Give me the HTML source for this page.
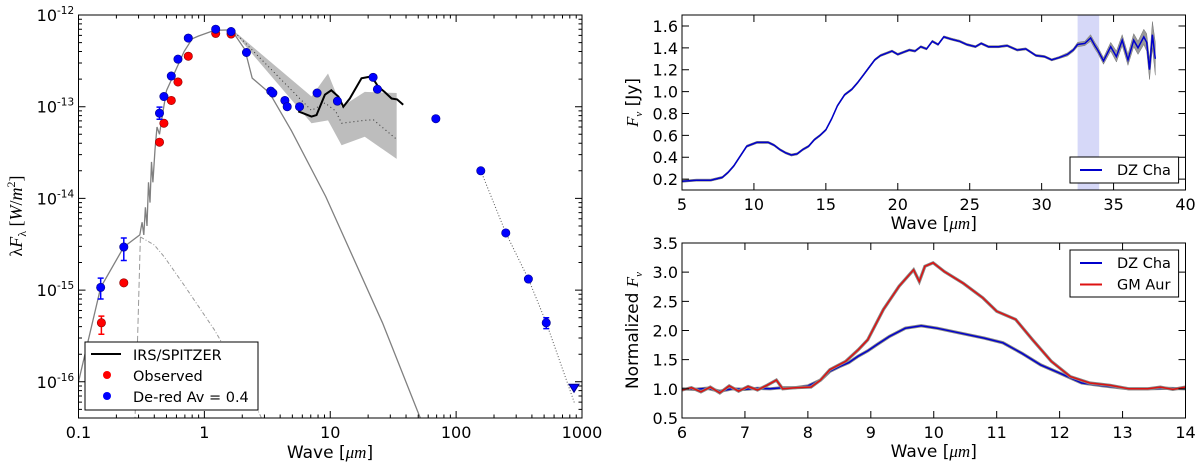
<!DOCTYPE html>
<html><head><meta charset="utf-8"><style>
html,body{margin:0;padding:0;background:#fff}
svg{display:block;font-family:"DejaVu Sans","Liberation Sans",sans-serif}
</style></head><body>
<svg id="fig" width="1200" height="464" viewBox="0 0 1200 464" xmlns="http://www.w3.org/2000/svg">
<g id="sed"></g>
<g id="top"></g>
<g id="bot"></g>
</svg>
<script>
// ---------- SED data (wavelength in um, flux in W/m^2) ----------
const photLam=[0.1,0.15,0.229,0.307,0.32,0.33,0.34,0.35,0.36,0.37,0.38,0.39,0.405,0.42,0.44,0.47,0.5,0.55,0.6,0.69,0.8,0.9,1.2,1.64,2.1,2.4,3.3,4.9,9.2,26,52,60];
const photF=[1e-16,1.07e-15,2.95e-15,4e-15,5.5e-15,4e-15,8e-15,5e-15,1.5e-14,9e-15,2.5e-14,1.5e-14,3.4e-14,6e-14,5e-14,9e-14,1.5e-13,2e-13,2.6e-13,4e-13,5.5e-13,5.9e-13,6.8e-13,6.9e-13,4.2e-13,2.05e-13,1.41e-13,5.5e-14,1.05e-14,4.4e-16,4e-17,2.5e-17];
const bbLeftLam=[0.31,0.295,0.28,0.27];
const bbLeftF=[3.8e-15,3e-16,3.4e-17,1e-17];
const bbRightLam=[0.31,0.4,0.48,0.7,1.2,2.0,2.8,3.2];
const bbRightF=[3.8e-15,3.1e-15,2.3e-15,1.1e-15,3.7e-16,1.1e-16,4.2e-17,2.5e-17];
const bandLam=[1.74,7.1,9.6,12.3,18.8,33.7];
const bandHi=[6.6e-13,1.29e-13,2.3e-13,1e-13,1.45e-13,1.41e-13];
const bandLo=[6.3e-13,6.6e-14,7.1e-14,3.8e-14,4.7e-14,2.7e-14];
const medLam=[1.74,7.1,9.06,11.0,12.3,18.8,22,33.7];
const medF=[6.5e-13,9.1e-14,1.1e-13,9e-14,6.6e-14,7.1e-14,7.2e-14,4.4e-14];
const irsLam=[5.56,7.1,7.77,9.06,10.2,11.6,12.7,14.3,17.7,21.3,24,27,30.7,34,38];
const irsF=[8.9e-14,7.8e-14,8.1e-14,1.35e-13,1.51e-13,1.29e-13,1e-13,1.23e-13,2.04e-13,2.14e-13,1.66e-13,1.45e-13,1.23e-13,1.2e-13,1.05e-13];
const obsLam=[0.152,0.229,0.44,0.477,0.546,0.617,0.745,1.23,1.63];
const obsF=[4.4e-16,1.2e-15,4.1e-14,6.6e-14,1.17e-13,1.86e-13,3.55e-13,6.3e-13,6.2e-13];
const obsErrLo=[3.3e-16,0,0,0,0,0,0,0,0];
const obsErrHi=[5.2e-16,0,0,0,0,0,0,0,0];
const derLam=[0.15,0.229,0.44,0.477,0.546,0.617,0.745,1.23,1.63,2.16,3.37,3.5,4.36,4.55,5.7,7.86,11.4,21.9,23.7,69,157,248,375,520];
const derF=[1.07e-15,2.95e-15,8.5e-14,1.29e-13,2.16e-13,3.3e-13,5.6e-13,7e-13,6.6e-13,3.9e-13,1.48e-13,1.41e-13,1.17e-13,1e-13,1e-13,1.41e-13,1.15e-13,2.09e-13,1.55e-13,7.4e-14,2e-14,4.2e-15,1.32e-15,4.4e-16];
const derErrLo=[8e-16,2.1e-15,7.3e-14,0,0,0,0,0,0,0,0,0,0,0,0,0,0,0,0,0,0,0,0,3.8e-16];
const derErrHi=[1.35e-15,3.7e-15,9.9e-14,0,0,0,0,0,0,0,0,0,0,0,0,0,0,0,0,0,0,0,0,5e-16];
const fitLam=[157,248,375,520,870];
const fitF=[2e-14,4.2e-15,1.32e-15,4.4e-16,5.9e-17];
const limLam=[864];
const limF=[8.5e-17];
// ---------- top right ----------
const specX=[5,6,7,7.8,8.2,8.6,9.0,9.5,10.2,11,11.4,11.8,12.2,12.6,13.0,13.4,13.8,14.2,14.6,15,15.4,15.8,16.3,16.8,17.2,17.6,18.0,18.4,18.8,19.2,19.6,20,20.4,20.8,21.2,21.6,22.0,22.4,22.8,23.2,23.7,24.3,24.8,25.4,25.8,26.3,27,27.6,28.3,28.9,29.6,30.2,30.7,31.2,31.8,32.2,32.5,33.0,33.4,33.7,33.9,34.3,34.8,35.2,35.6,36.0,36.4,36.7,37.1,37.3,37.5,37.7,37.9];
const specY=[0.18,0.19,0.19,0.215,0.26,0.32,0.4,0.5,0.535,0.535,0.51,0.47,0.44,0.42,0.43,0.47,0.5,0.56,0.6,0.65,0.75,0.87,0.97,1.02,1.08,1.15,1.22,1.29,1.33,1.35,1.37,1.34,1.36,1.38,1.37,1.41,1.39,1.46,1.43,1.5,1.48,1.46,1.43,1.41,1.44,1.41,1.41,1.42,1.38,1.39,1.33,1.32,1.29,1.31,1.34,1.38,1.43,1.44,1.49,1.42,1.38,1.28,1.41,1.32,1.47,1.29,1.47,1.4,1.5,1.45,1.2,1.52,1.3];
const specErr=[0.01,0.01,0.01,0.01,0.01,0.01,0.01,0.01,0.01,0.01,0.01,0.01,0.01,0.01,0.01,0.01,0.01,0.01,0.01,0.01,0.01,0.01,0.01,0.01,0.01,0.01,0.01,0.01,0.01,0.01,0.01,0.01,0.01,0.01,0.01,0.01,0.01,0.01,0.01,0.01,0.01,0.01,0.01,0.01,0.01,0.01,0.01,0.01,0.01,0.01,0.01,0.01,0.01,0.01,0.015,0.015,0.02,0.02,0.03,0.03,0.03,0.03,0.04,0.05,0.05,0.05,0.06,0.06,0.07,0.08,0.09,0.12,0.15];
const shadeRange=[32.5,34.0];
// ---------- bottom right ----------
const dzX=[6,6.2,6.4,6.6,6.8,7,7.2,7.4,7.6,7.8,8,8.2,8.35,8.5,8.65,8.8,8.95,9.1,9.3,9.55,9.8,10.05,10.4,10.8,11.1,11.4,11.7,12.0,12.35,12.7,13.1,13.4,13.7,14];
const dzY=[1.0,0.99,1.01,0.96,1.0,0.99,1.01,1.0,1.02,1.02,1.05,1.15,1.3,1.38,1.45,1.56,1.65,1.76,1.9,2.04,2.08,2.04,1.96,1.87,1.79,1.61,1.41,1.27,1.1,1.05,1.0,1.0,1.01,1.0];
const gmX=[6,6.15,6.3,6.45,6.6,6.75,6.9,7.05,7.2,7.35,7.5,7.6,7.8,8.05,8.2,8.35,8.6,8.8,8.95,9.2,9.45,9.68,9.77,9.86,9.99,10.17,10.47,10.78,11.0,11.3,11.57,11.87,12.17,12.48,12.8,13.1,13.4,13.6,13.8,14];
const gmY=[0.98,1.02,0.95,1.03,0.93,1.05,0.96,1.04,0.98,1.06,1.15,1.0,1.02,1.03,1.15,1.33,1.47,1.67,1.84,2.36,2.76,3.04,2.84,3.1,3.16,3.01,2.81,2.56,2.33,2.19,1.84,1.47,1.21,1.1,1.06,1.0,1.0,1.03,0.99,1.03];

const NS="http://www.w3.org/2000/svg";
function mk(par,tag,attrs,txt){const e=document.createElementNS(NS,tag);for(const k in attrs)e.setAttribute(k,attrs[k]);if(txt!==undefined)e.textContent=txt;par.appendChild(e);return e;}

// ===== SED chart =====
(function(){
const g=document.getElementById('sed');
const L=78.5,R=582,T=15,B=418;
const xs=v=>L+(Math.log10(v)+1)/4*(R-L);
const ys=v=>T+(-12-Math.log10(v))*91.7;
const path=(xa,ya)=>xa.map((x,i)=>(i?'L':'M')+xs(x).toFixed(1)+','+ys(ya[i]).toFixed(1)).join('');
mk(g,'defs',{}).innerHTML='<clipPath id="c1"><rect x="'+L+'" y="'+T+'" width="'+(R-L)+'" height="'+(B-T)+'"/></clipPath>';
const pg=mk(g,'g',{'clip-path':'url(#c1)'});
let d=bandLam.map((x,i)=>(i?'L':'M')+xs(x)+','+ys(bandHi[i])).join('');
for(let i=bandLam.length-1;i>=0;i--)d+='L'+xs(bandLam[i])+','+ys(bandLo[i]);
let e=mk(pg,'path',{d:d+'Z',fill:'#bdbdbd',stroke:'none'});

e=mk(pg,'path',{d:path(medLam,medF),fill:'none',stroke:'#333',"stroke-width":1,"stroke-dasharray":"1,3"});

e=mk(pg,'path',{d:path(photLam,photF),fill:'none',stroke:'#808080',"stroke-width":1.3});

e=mk(pg,'path',{d:path(bbLeftLam,bbLeftF),fill:'none',stroke:'#999',"stroke-width":1,"stroke-dasharray":"6,3"});

e=mk(pg,'path',{d:path(bbRightLam,bbRightF),fill:'none',stroke:'#999',"stroke-width":1,"stroke-dasharray":"4,2,1,2"});

e=mk(pg,'path',{d:path(irsLam,irsF),fill:'none',stroke:'#000',"stroke-width":2});

e=mk(pg,'path',{d:path(fitLam,fitF),fill:'none',stroke:'#555',"stroke-width":1,"stroke-dasharray":"1,2"});

function pts(lam,f,lo,hi,col,nm){
 lam.forEach((x,i)=>{
  if(lo[i]>0){const cx=xs(x);const l=mk(pg,'path',{d:'M'+cx+','+ys(lo[i])+'V'+ys(hi[i])+'M'+(cx-3)+','+ys(lo[i])+'h6M'+(cx-3)+','+ys(hi[i])+'h6',stroke:col,"stroke-width":1.5,fill:'none'});
   }
  const c=mk(pg,'circle',{cx:xs(x),cy:ys(f[i]),r:4.2,fill:col,stroke:col=='#0000ff'?'#00008b':'#8b0000',"stroke-width":0.6});
  
 });
}
pts(obsLam,obsF,obsErrLo,obsErrHi,'#ff0000','observed');
pts(derLam,derF,derErrLo,derErrHi,'#0000ff','dereddened');
limLam.forEach((x,i)=>{const cx=xs(x),cy=ys(limF[i]);const t=mk(pg,'path',{d:'M'+(cx-5)+','+(cy-4)+'h10l-5,8Z',fill:'#0000ff',stroke:'#00008b'});
 });
mk(g,'rect',{x:L,y:T,width:R-L,height:B-T,fill:'none',stroke:'#000',"stroke-width":1});
let tk='';
for(let dec=-1;dec<3;dec++)for(let m=1;m<10;m++){const v=m*Math.pow(10,dec);const x=xs(v);const len=m==1?7:3.5;tk+='M'+x+','+B+'v-'+len+'M'+x+','+T+'v'+len;}
tk+='M'+R+','+B+'v-7M'+R+','+T+'v7';
for(let dec=-17;dec<-12;dec++)for(let m=1;m<10;m++){const v=m*Math.pow(10,dec);const y=ys(v);if(y<T-0.5||y>B)continue;const len=m==1?7:3.5;tk+='M'+L+','+y+'h'+len+'M'+R+','+y+'h-'+len;}
tk+='M'+L+','+T+'h7M'+R+','+T+'h-7';
mk(g,'path',{d:tk,stroke:'#000',"stroke-width":1,fill:'none'});
const xl=['0.1','1','10','100','1000'];
xl.forEach((s,i)=>{const t=mk(g,'text',{x:L+i*(R-L)/4,y:438,"text-anchor":"middle","font-size":16},s);});
[-12,-13,-14,-15,-16].forEach(p=>{const y=ys(Math.pow(10,p));const t=mk(g,'text',{x:57,y:y+6,"text-anchor":"end","font-size":16},'10');
 
 mk(g,'text',{x:57,y:y-1,"font-size":10.5},String(p));});
let t=mk(g,'text',{x:330,y:458,"text-anchor":"middle","font-size":17},'');t.innerHTML='Wave [<tspan font-family="Liberation Serif" font-style="italic">μm</tspan>]';

t=mk(g,'text',{transform:'translate(22,216) rotate(-90)',"text-anchor":"middle","font-size":18,"font-family":"Liberation Serif"},'');
t.innerHTML='λ<tspan font-style="italic">F</tspan><tspan font-size="12" dy="4">λ</tspan><tspan dy="-4">   [</tspan><tspan font-style="italic">W</tspan>/<tspan font-style="italic">m</tspan><tspan font-size="12" dy="-7">2</tspan><tspan dy="7">]</tspan>';

const lg=mk(g,'g',{});
mk(lg,'rect',{x:85,y:342,width:173,height:68,fill:'#fff',stroke:'#000',"stroke-width":1});
mk(lg,'line',{x1:91,x2:121,y1:354,y2:354,stroke:'#000',"stroke-width":2});
mk(lg,'text',{x:133,y:360,"font-size":14.5},'IRS/SPITZER');
mk(lg,'circle',{cx:107,cy:375,r:4,fill:'#f00'});
mk(lg,'text',{x:133,y:381,"font-size":14.5},'Observed');
mk(lg,'circle',{cx:107,cy:396,r:4,fill:'#00f'});
mk(lg,'text',{x:133,y:402,"font-size":14.5},'De-red Av = 0.4');
})();

// ===== linear charts =====
function linChart(id,T,B,xmin,xmax,ymin,ymax,xticks,yticks,ydec,ytitle,series,legend,shade){
const g=document.getElementById(id);const L=682,R=1185.5;
const xs=v=>L+(v-xmin)/(xmax-xmin)*(R-L);
const ys=v=>B-(v-ymin)/(ymax-ymin)*(B-T);
mk(g,'defs',{}).innerHTML='<clipPath id="c'+id+'"><rect x="'+L+'" y="'+T+'" width="'+(R-L)+'" height="'+(B-T)+'"/></clipPath>';
const pg=mk(g,'g',{'clip-path':'url(#c'+id+')'});
if(shade){const s=mk(pg,'rect',{x:xs(shade[0]),y:T,width:xs(shade[1])-xs(shade[0]),height:B-T,fill:'#d6d8f8'});}
series.forEach(s=>{
 const d=s.x.map((x,i)=>(i?'L':'M')+xs(x).toFixed(1)+','+ys(s.y[i]).toFixed(1)).join('');
 if(s.err){let u=s.x.map((x,i)=>(i?'L':'M')+xs(x)+','+ys(s.y[i]+s.err[i])).join('');for(let i=s.x.length-1;i>=0;i--)u+='L'+xs(s.x[i])+','+ys(s.y[i]-s.err[i]);
  const b=mk(pg,'path',{d:u+'Z',fill:'#999',stroke:'#777',"stroke-width":0.5});}
 else{const b=mk(pg,'path',{d:d,fill:'none',stroke:'#888',"stroke-width":3.2});}
 const p=mk(pg,'path',{d:d,fill:'none',stroke:s.col,"stroke-width":1.5});
});
mk(g,'rect',{x:L,y:T,width:R-L,height:B-T,fill:'none',stroke:'#000'});
let tk='';
xticks.forEach(v=>{const x=xs(v);tk+='M'+x+','+B+'v-7M'+x+','+T+'v7';
 const t=mk(g,'text',{x:x,y:B+20,"text-anchor":"middle","font-size":16},String(v));});
yticks.forEach(v=>{const y=ys(v);tk+='M'+L+','+y+'h7M'+R+','+y+'h-7';
 const t=mk(g,'text',{x:L-4,y:y+6,"text-anchor":"end","font-size":16},v.toFixed(ydec));});
mk(g,'path',{d:tk,stroke:'#000',fill:'none'});
let t=mk(g,'text',{x:(L+R)/2,y:B+39,"text-anchor":"middle","font-size":17},'');t.innerHTML='Wave [<tspan font-family="Liberation Serif" font-style="italic">μm</tspan>]';

t=mk(g,'text',{transform:'translate(638,'+((T+B)/2)+') rotate(-90)',"text-anchor":"middle","font-size":17},'');t.innerHTML=ytitle;

const lg=mk(g,'g',{});
mk(lg,'rect',{x:1070,y:legend.y,width:108.6,height:legend.h,fill:'#fff',stroke:'#000'});
legend.items.forEach((it,i)=>{const y=legend.y+13+i*21.5;mk(lg,'line',{x1:1080,x2:1102,y1:y,y2:y,stroke:it[1],"stroke-width":2});mk(lg,'text',{x:1117,y:y+5,"font-size":14.5},it[0]);});
}
linChart('top',15,190,5,40,0.1,1.7,[5,10,15,20,25,30,35,40],[0.2,0.4,0.6,0.8,1.0,1.2,1.4,1.6],1,
 '<tspan font-family="Liberation Serif" font-style="italic">F</tspan><tspan font-family="Liberation Serif" font-style="italic" font-size="11" dy="4">ν</tspan><tspan dy="-4"> [Jy]</tspan>',
 [{x:specX,y:specY,err:specErr,col:'#0000cc',name:'dz-cha'}],{y:157,h:26,items:[['DZ Cha','#0000cc']]},shadeRange);
linChart('bot',243,418,6,14,0.5,3.5,[6,7,8,9,10,11,12,13,14],[0.5,1.0,1.5,2.0,2.5,3.0,3.5],1,
 'Normalized <tspan font-family="Liberation Serif" font-style="italic">F</tspan><tspan font-family="Liberation Serif" font-style="italic" font-size="11" dy="4">ν</tspan>',
 [{x:dzX,y:dzY,col:'#0000cc',name:'dz-cha'},{x:gmX,y:gmY,col:'#dd1111',name:'gm-aur'}],{y:250,h:47,items:[['DZ Cha','#0000cc'],['GM Aur','#dd1111']]},null);
</script>
</body></html>
